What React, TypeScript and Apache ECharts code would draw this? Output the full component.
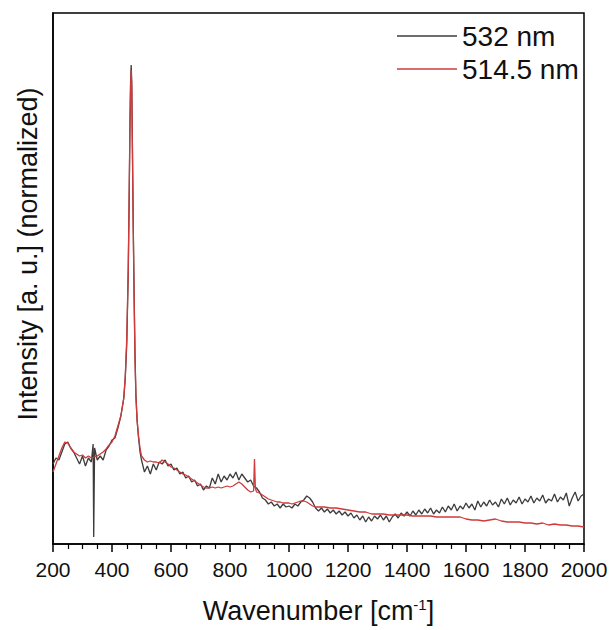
import React, { useEffect, useRef } from "react";
import * as echarts from "echarts";

// Wavenumber [cm-1], intensity (arbitrary, normalized units)
const black532: [number, number][] = [
  [200, 80], [210, 86], [220, 84], [230, 92], [240, 100], [250, 102], [260, 96], [270, 92], [280, 86], [290, 80],
  [300, 88], [310, 78], [320, 86], [330, 82], [336, 100], [338, 7], [341, 96], [350, 84], [360, 88], [370, 84],
  [380, 94], [390, 98], [400, 104], [410, 106], [420, 116], [430, 128], [440, 146], [445, 166], [450, 200],
  [455, 270], [458, 340], [461, 420], [463, 462], [465, 479], [467, 462], [469, 405], [472, 320], [475, 250],
  [478, 190], [481, 150], [485, 124], [490, 106], [495, 92], [500, 84], [510, 72], [520, 78], [530, 70],
  [540, 80], [550, 74], [560, 82], [570, 80], [580, 84], [590, 78], [600, 80], [610, 74], [620, 76], [630, 70],
  [640, 72], [650, 66], [660, 68], [670, 62], [680, 64], [690, 58], [700, 60], [710, 54], [720, 58], [730, 56],
  [740, 66], [750, 60], [760, 70], [770, 62], [780, 68], [790, 64], [800, 70], [810, 66], [820, 72], [830, 64],
  [840, 70], [850, 66], [860, 62], [870, 64], [880, 58], [890, 56], [900, 52], [910, 46], [920, 44], [930, 40],
  [940, 42], [950, 38], [960, 40], [970, 36], [980, 40], [990, 37], [1000, 38], [1010, 36], [1020, 40],
  [1030, 38], [1040, 42], [1050, 44], [1060, 48], [1070, 46], [1080, 42], [1090, 36], [1100, 33], [1110, 36],
  [1120, 32], [1130, 35], [1140, 31], [1150, 34], [1160, 30], [1170, 33], [1180, 29], [1190, 32], [1200, 28],
  [1210, 31], [1220, 26], [1230, 29], [1240, 24], [1250, 28], [1260, 22], [1270, 27], [1280, 23], [1290, 28],
  [1300, 25], [1310, 29], [1320, 24], [1330, 28], [1340, 22], [1350, 27], [1360, 30], [1370, 26], [1380, 31],
  [1390, 28], [1400, 32], [1410, 28], [1420, 33], [1430, 29], [1440, 34], [1450, 30], [1460, 35], [1470, 31],
  [1480, 36], [1490, 30], [1500, 34], [1510, 31], [1520, 37], [1530, 32], [1540, 38], [1550, 34], [1560, 40],
  [1570, 33], [1580, 38], [1590, 35], [1600, 41], [1610, 36], [1620, 40], [1630, 34], [1640, 43], [1650, 37],
  [1660, 42], [1670, 38], [1680, 44], [1690, 39], [1700, 42], [1710, 37], [1720, 45], [1730, 40], [1740, 46],
  [1750, 39], [1760, 44], [1770, 41], [1780, 47], [1790, 40], [1800, 45], [1810, 42], [1820, 48], [1830, 41],
  [1840, 46], [1850, 43], [1860, 49], [1870, 41], [1880, 45], [1890, 43], [1900, 50], [1910, 42], [1920, 47],
  [1930, 44], [1940, 51], [1950, 38], [1960, 46], [1970, 52], [1980, 43], [1990, 48], [2000, 50],
];

const red514: [number, number][] = [
  [200, 72], [210, 80], [220, 88], [230, 96], [240, 102], [250, 101], [260, 96], [270, 92], [280, 90], [290, 88],
  [300, 89], [310, 86], [320, 88], [330, 86], [340, 87], [350, 88], [360, 90], [370, 92], [380, 95], [390, 99],
  [400, 102], [410, 108], [420, 118], [430, 128], [440, 146], [445, 168], [450, 205], [455, 275], [458, 345],
  [461, 425], [463, 458], [465, 474], [467, 455], [469, 398], [472, 315], [475, 245], [478, 185], [481, 148],
  [485, 124], [490, 108], [495, 96], [500, 88], [510, 84], [520, 82], [530, 83], [540, 82], [550, 82], [560, 81],
  [570, 84], [580, 82], [590, 80], [600, 77], [610, 76], [620, 74], [630, 72], [640, 70], [650, 69], [660, 67],
  [670, 65], [680, 63], [690, 61], [700, 59], [710, 57], [720, 56], [730, 56], [740, 57], [750, 56], [760, 57],
  [770, 56], [780, 57], [790, 58], [800, 57], [810, 58], [820, 60], [830, 62], [840, 60], [850, 57], [860, 54],
  [870, 52], [880, 53], [883, 85], [886, 56], [890, 52], [900, 51], [910, 49], [920, 47], [930, 45], [940, 44],
  [950, 43], [960, 42], [970, 42], [980, 41], [990, 41], [1000, 41], [1010, 40], [1020, 41], [1030, 42],
  [1040, 43], [1050, 43], [1060, 42], [1070, 40], [1080, 38], [1090, 37], [1100, 37], [1120, 37], [1140, 36],
  [1160, 36], [1180, 35], [1200, 34], [1220, 33], [1240, 32], [1260, 32], [1280, 30], [1300, 30], [1320, 30],
  [1340, 29], [1360, 29], [1380, 29], [1400, 29], [1420, 28], [1440, 28], [1460, 28], [1480, 28], [1500, 27],
  [1520, 27], [1540, 27], [1560, 27], [1580, 27], [1600, 25], [1620, 24], [1640, 24], [1660, 23], [1680, 24],
  [1700, 25], [1720, 23], [1740, 22], [1760, 22], [1780, 22], [1800, 21], [1820, 21], [1840, 20], [1860, 21],
  [1880, 19], [1900, 20], [1920, 19], [1940, 19], [1960, 18], [1980, 18], [2000, 17],
];

const seriesNames = ["532 nm", "514.5 nm"];
const xTickMin = 200;
const xTickMax = 2000;
const xTickStep = 200;

const FONT = "Liberation Sans, Arial, sans-serif";

export default function App() {
  const ref = useRef<HTMLDivElement>(null);
  useEffect(() => {
    if (!ref.current) return;
    const chart = echarts.init(ref.current, undefined, { renderer: "svg" });
    chart.setOption({
      animation: false,
      backgroundColor: "#ffffff",
      grid: {
        left: 53,
        right: 30,
        top: 13,
        bottom: 86,
        show: true,
        borderColor: "#000",
        borderWidth: 1.5,
        backgroundColor: "transparent",
      },
      legend: {
        orient: "vertical",
        left: 392,
        top: 17,
        icon: "rect",
        itemWidth: 60,
        itemHeight: 1.4,
        itemGap: 5,
        data: seriesNames,
        textStyle: { fontFamily: FONT, fontSize: 28, color: "#111", lineHeight: 19, padding: [0, 0, 0, 0] },
      },
      xAxis: {
        type: "value",
        min: xTickMin,
        max: xTickMax,
        interval: xTickStep,
        axisLine: { show: true, lineStyle: { color: "#000", width: 1.5 } },
        axisTick: { show: true, inside: false, length: 8, lineStyle: { color: "#000", width: 1.5 } },
        minorTick: { show: true, splitNumber: 4, length: 5, lineStyle: { color: "#000", width: 1.2 } },
        splitLine: { show: false },
        axisLabel: {
          fontFamily: FONT,
          fontSize: 21,
          color: "#111",
          margin: 15,
          formatter: (v: number) => String(v),
        },
        name: "{a|Wavenumber [cm}{s|-1}{a|]}",
        nameLocation: "middle",
        nameGap: 53,
        nameTextStyle: {
          rich: {
            a: { fontFamily: FONT, fontSize: 27, color: "#111", verticalAlign: "bottom" },
            s: { fontFamily: FONT, fontSize: 15, color: "#111", verticalAlign: "top", padding: [0, 0, 12, 0] },
          },
        },
      },
      yAxis: {
        type: "value",
        min: 0,
        max: 531,
        axisLine: { show: true, lineStyle: { color: "#000", width: 1.5 } },
        axisTick: { show: false },
        axisLabel: { show: false },
        splitLine: { show: false },
      },
      graphic: [
        {
          type: "text",
          x: 28,
          y: 254,
          rotation: Math.PI / 2,
          style: {
            text: "Intensity [a. u.] (normalized)",
            fontFamily: FONT,
            fontSize: 27,
            fill: "#111",
            textAlign: "center",
            textVerticalAlign: "middle",
          },
        },
      ],
      series: [
        {
          name: seriesNames[0],
          type: "line",
          data: black532,
          symbol: "none",
          lineStyle: { color: "#3c3c3c", width: 1.3 },
          itemStyle: { color: "#3c3c3c" },
        },
        {
          name: seriesNames[1],
          type: "line",
          data: red514,
          symbol: "none",
          lineStyle: { color: "#d03a3a", width: 1.3 },
          itemStyle: { color: "#d03a3a" },
        },
      ],
    });
    return () => chart.dispose();
  }, []);
  return (
    <div
      ref={ref}
      style={{ position: "absolute", left: 0, top: 0, width: 614, height: 630, background: "#fff" }}
    />
  );
}
